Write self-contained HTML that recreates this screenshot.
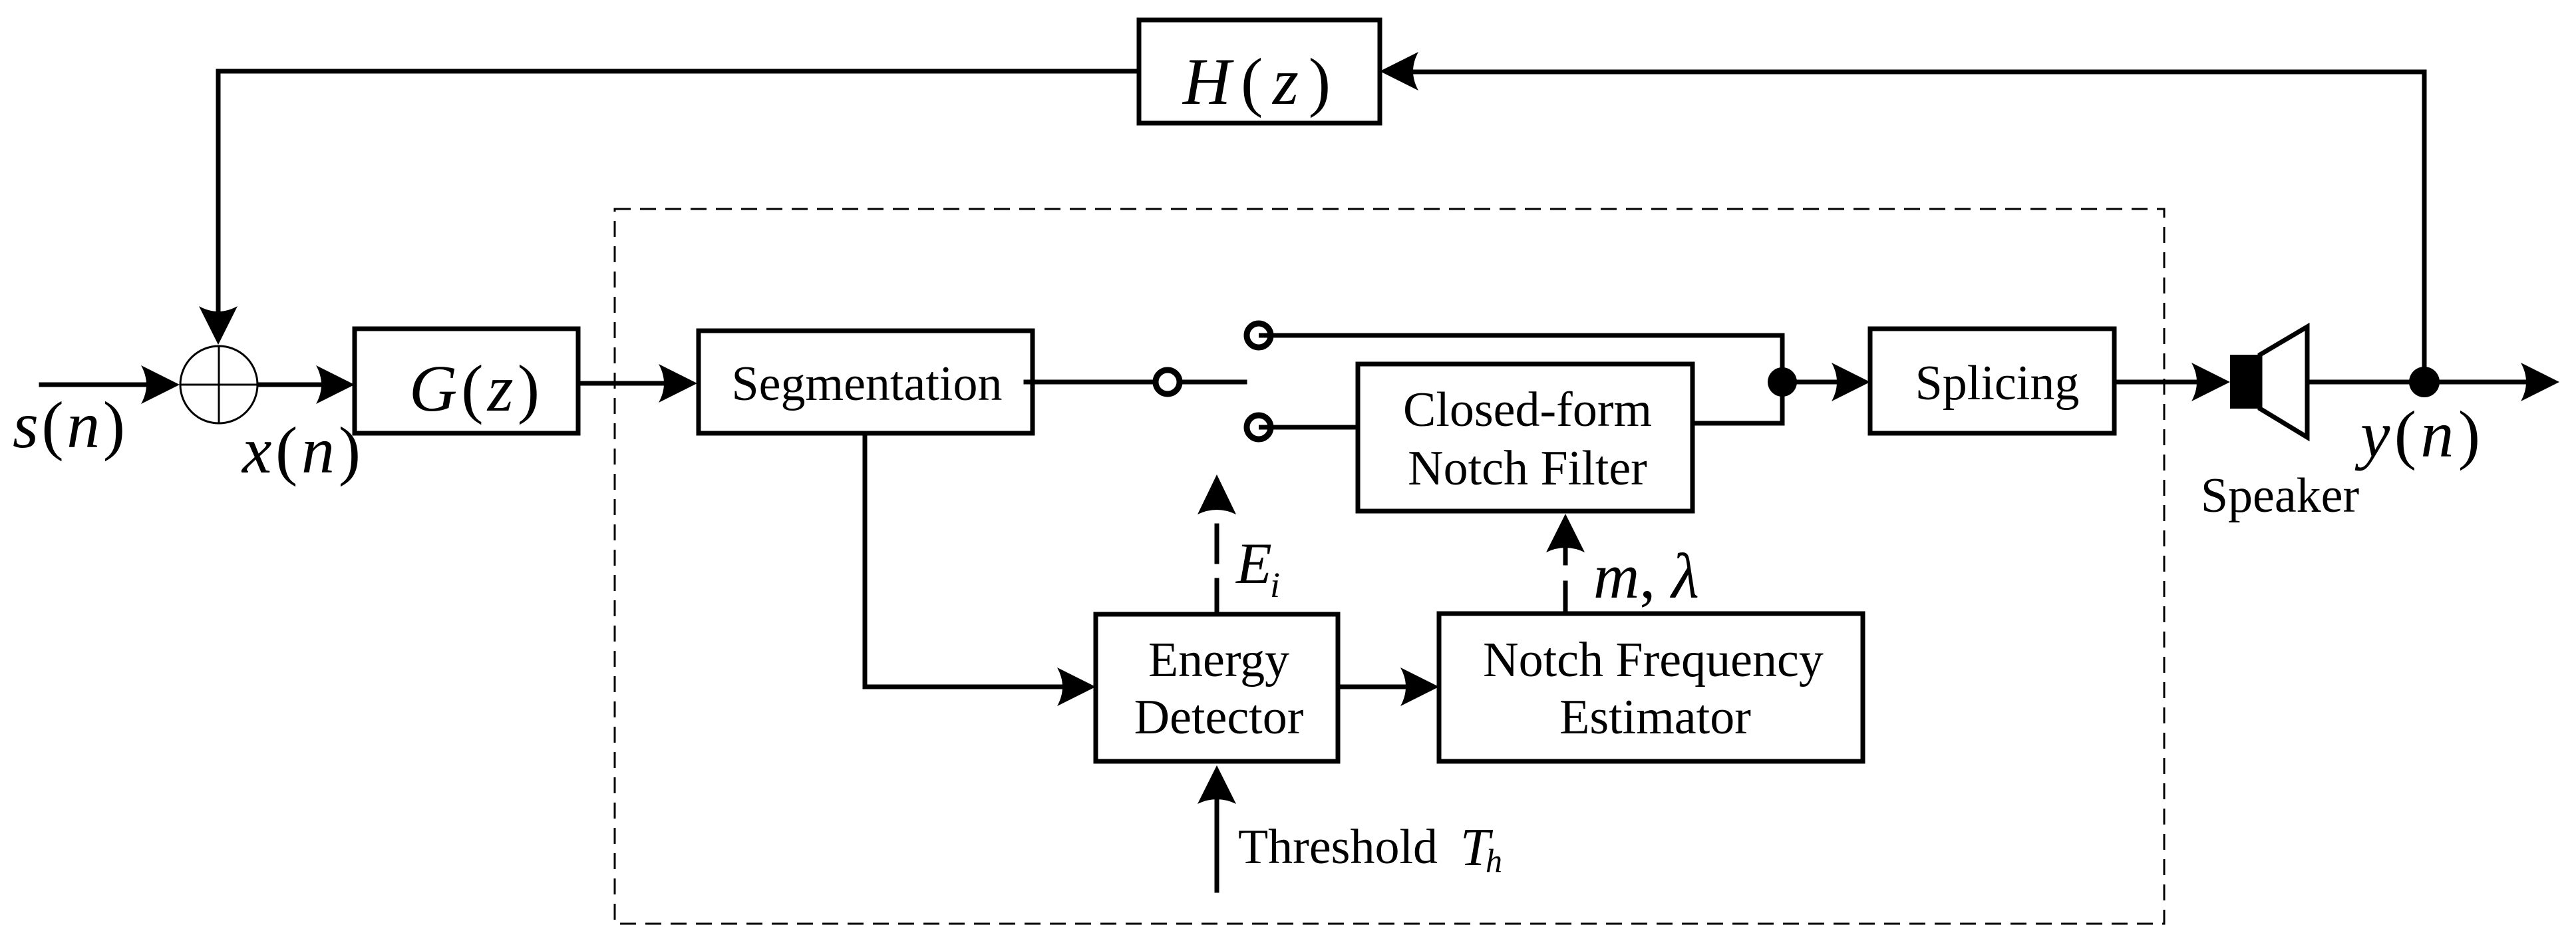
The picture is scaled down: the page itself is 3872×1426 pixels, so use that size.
<!DOCTYPE html>
<html><head><meta charset="utf-8"><style>html,body{margin:0;padding:0;background:#fff}svg{display:block}text{font-family:"Liberation Serif","Times New Roman",serif}</style></head>
<body>
<svg width="3872" height="1426" viewBox="0 0 3872 1426" xmlns="http://www.w3.org/2000/svg">
<rect width="3872" height="1426" fill="#fff"/>
<rect x="924" y="314" width="2329" height="1074" fill="none" stroke="#000" stroke-width="3" stroke-dasharray="24,14"/>
<g stroke="#000" stroke-width="7" fill="none" stroke-linecap="square">
  <rect x="1712" y="30" width="362" height="155"/>
  <rect x="533" y="494" width="336" height="157"/>
  <rect x="1050" y="497" width="502" height="154"/>
  <rect x="2041" y="547" width="503" height="221"/>
  <rect x="2811" y="494" width="367" height="157"/>
  <rect x="1647" y="923" width="364" height="221"/>
  <rect x="2163" y="922" width="637" height="222"/>
  <polyline points="1712,107 328,107 328,470"/>
  <polyline points="3644,574 3644,108 2120,108"/>
  <line x1="62" y1="578" x2="230" y2="578"/>
  <line x1="387" y1="578" x2="495" y2="578"/>
  <line x1="869" y1="576" x2="1005" y2="576"/>
  <line x1="1542" y1="574" x2="1737" y2="574"/>
  <line x1="1773" y1="574" x2="1871" y2="574"/>
  <polyline points="1892,504 2679,504 2679,636 2544,636"/>
  <line x1="1892" y1="642" x2="2041" y2="642"/>
  <line x1="2679" y1="574" x2="2770" y2="574"/>
  <line x1="3178" y1="574" x2="3310" y2="574"/>
  <line x1="3468" y1="574" x2="3805" y2="574"/>
  <polyline points="1300,651 1300,1032 1605,1032"/>
  <line x1="2011" y1="1032" x2="2120" y2="1032"/>
  <line x1="1829" y1="1338" x2="1829" y2="1190"/>
  <line x1="1829" y1="923" x2="1829" y2="872"/>
  <line x1="1829" y1="844" x2="1829" y2="790"/>
  <line x1="2353" y1="922" x2="2353" y2="876"/>
  <line x1="2353" y1="846" x2="2353" y2="818"/>
  <circle cx="1755" cy="574" r="18" fill="#fff" stroke-width="9"/>
  <circle cx="1892" cy="504" r="18" fill="#fff" stroke-width="9"/>
  <circle cx="1892" cy="642" r="18" fill="#fff" stroke-width="9"/>
  <polygon points="3397,533 3468,491 3468,657 3397,614" fill="#fff"/>
</g>
<line x1="1892" y1="504" x2="1915" y2="504" stroke="#000" stroke-width="7"/>
<line x1="1892" y1="642" x2="1915" y2="642" stroke="#000" stroke-width="7"/>
<rect x="3352" y="533" width="45" height="81" fill="#000"/>
<circle cx="2679" cy="574" r="22" fill="#000"/>
<circle cx="3644" cy="574" r="23" fill="#000"/>
<g stroke="#000" stroke-width="3" fill="#fff">
  <circle cx="329" cy="578" r="58"/>
  <line x1="271" y1="578" x2="387" y2="578"/>
  <line x1="329" y1="520" x2="329" y2="636"/>
</g>
<g fill="#000">
  <path d="M270,578 L212,549 Q228,578 212,607 Z"/>
  <path d="M533,578 L475,549 Q491,578 475,607 Z"/>
  <path d="M1048,576 L990,547 Q1006,576 990,605 Z"/>
  <path d="M1647,1032 L1589,1003 Q1605,1032 1589,1061 Z"/>
  <path d="M2163,1032 L2105,1003 Q2121,1032 2105,1061 Z"/>
  <path d="M2811,574 L2753,545 Q2769,574 2753,603 Z"/>
  <path d="M3352,574 L3294,545 Q3310,574 3294,603 Z"/>
  <path d="M3847,574 L3789,545 Q3805,574 3789,603 Z"/>
  <path d="M328,518 L299,460 Q328,476 357,460 Z"/>
  <path d="M2074,107 L2132,78 Q2116,107 2132,136 Z"/>
  <path d="M1829,713 L1800,773 Q1829,759 1858,773 Z"/>
  <path d="M2353,772 L2324,830 Q2353,816 2382,830 Z"/>
  <path d="M1829,1150 L1800,1208 Q1829,1194 1858,1208 Z"/>
</g>
<g fill="#000" font-size="74" text-anchor="middle">
  <text x="1303" y="601">Segmentation</text>
  <text x="2296" y="640">Closed-form</text>
  <text x="2296" y="728">Notch Filter</text>
  <text x="3002" y="600">Splicing</text>
  <text x="1832" y="1016">Energy</text>
  <text x="1832" y="1102">Detector</text>
  <text x="2485" y="1016">Notch Frequency</text>
  <text x="2488" y="1102">Estimator</text>
  <text x="3427" y="769">Speaker</text>
  <text x="2011" y="1297">Threshold</text>
</g>
<g fill="#000" font-size="100">
  <text x="1778" y="156" textLength="222"><tspan font-style="italic">H</tspan>(<tspan font-style="italic">z</tspan>)</text>
  <text x="615" y="617" textLength="196"><tspan font-style="italic">G</tspan>(<tspan font-style="italic">z</tspan>)</text>
  <text x="19" y="672" textLength="169"><tspan font-style="italic">s</tspan>(<tspan font-style="italic">n</tspan>)</text>
  <text x="364" y="710" textLength="178"><tspan font-style="italic">x</tspan>(<tspan font-style="italic">n</tspan>)</text>
  <text x="3548" y="686" textLength="180"><tspan font-style="italic">y</tspan>(<tspan font-style="italic">n</tspan>)</text>
  <text x="2395" y="898" font-size="96"><tspan font-style="italic">m</tspan>, <tspan font-style="italic">λ</tspan></text>
  <text x="1858" y="876" font-size="88" font-style="italic">E</text>
  <text x="1909" y="897" font-size="54" font-style="italic">i</text>
  <text x="2195" y="1300" font-size="80" font-style="italic">T</text>
  <text x="2233" y="1310" font-size="50" font-style="italic">h</text>
</g>
</svg>
</body></html>
